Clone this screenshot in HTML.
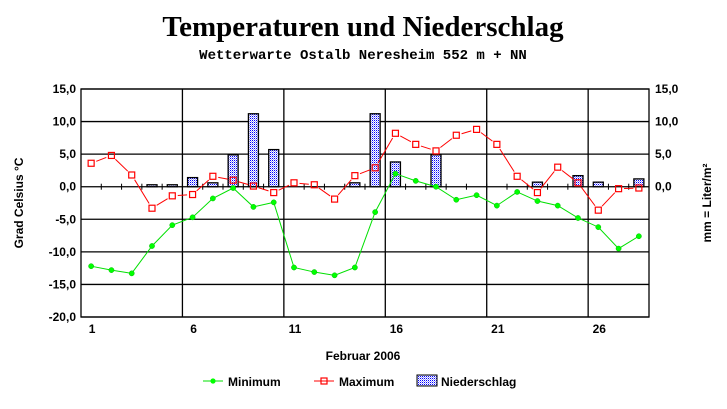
<!DOCTYPE html><html><head><meta charset="utf-8"><style>
body{margin:0;background:#fff;width:727px;height:404px;overflow:hidden}
svg text{font-family:"Liberation Sans",Arial,sans-serif;font-weight:bold;font-size:12px}
</style></head><body>
<svg id="s" width="727" height="404" xmlns="http://www.w3.org/2000/svg">
<defs><pattern id="p" width="2" height="2" patternUnits="userSpaceOnUse"><rect width="2" height="2" fill="#fff"/><rect width="1" height="1" fill="#0000ff"/><rect x="1" y="1" width="1" height="1" fill="#a0a0ff"/></pattern></defs>
<text x="363" y="36" text-anchor="middle" style="font-family:'Liberation Serif',serif;font-size:29px;font-weight:bold">Temperaturen und Niederschlag</text>
<text x="363" y="59" text-anchor="middle" style="font-family:'Liberation Mono',monospace;font-size:14px;font-weight:bold">Wetterwarte Ostalb Neresheim 552 m + NN</text>
<g id="g"></g>
<text x="363" y="360" text-anchor="middle">Februar 2006</text>
<text transform="translate(23,203) rotate(-90)" text-anchor="middle">Grad Celsius °C</text>
<text transform="translate(711,203) rotate(-90)" text-anchor="middle">mm = Liter/m²</text>
</svg>
<script>
var g=document.getElementById('g'),h='';
var L=81,R=649,T=89,B=317,W=20.286;
function y(v){return T+(15-v)*(B-T)/35}
function cx(d){return L+(d-0.5)*W}
for(var v=15;v>=-20;v-=5){var yy=y(v);h+='<line x1="'+L+'" x2="'+R+'" y1="'+yy+'" y2="'+yy+'" stroke="#000" stroke-width="1.3"/>';
h+='<text x="76" y="'+(yy+4)+'" text-anchor="end">'+v.toFixed(1).replace('.',',')+'</text>';
if(v>=0)h+='<text x="655" y="'+(yy+4)+'">'+v.toFixed(1).replace('.',',')+'</text>';}
for(var i=5;i<28;i+=5){var xx=L+i*W;h+='<line x1="'+xx+'" x2="'+xx+'" y1="'+T+'" y2="'+B+'" stroke="#000" stroke-width="1.3"/>';}
for(var i=1;i<28;i++){var xx=L+i*W;h+='<line x1="'+xx+'" x2="'+xx+'" y1="'+(y(0)-3)+'" y2="'+(y(0)+3)+'" stroke="#000"/>';}
h+='<rect x="'+L+'" y="'+T+'" width="'+(R-L)+'" height="'+(B-T)+'" fill="none" stroke="#000" stroke-width="1.3"/>';
[1,6,11,16,21,26].forEach(function(d){h+='<text x="'+(cx(d)+1)+'" y="333" text-anchor="middle">'+d+'</text>'});
var pr={4:.3,5:.3,6:1.4,7:.6,8:4.9,9:11.2,10:5.7,14:.6,15:11.2,16:3.8,18:4.9,23:.7,25:1.7,26:.7,28:1.2};
for(var d in pr){var t=y(pr[d]);h+='<rect x="'+(cx(+d)-5)+'" y="'+t+'" width="10" height="'+(y(0)-t)+'" fill="url(#p)" stroke="#000" stroke-width="1.3"/>';}
var mn=[-12.2,-12.8,-13.3,-9.1,-5.9,-4.7,-1.8,-0.2,-3.1,-2.4,-12.4,-13.1,-13.6,-12.4,-3.9,2.0,0.9,0.0,-2.0,-1.3,-2.9,-0.8,-2.2,-2.9,-4.8,-6.2,-9.5,-7.6];
var mx=[3.6,4.8,1.8,-3.3,-1.4,-1.2,1.6,1.0,0.1,-0.9,0.6,0.3,-1.9,1.7,2.9,8.2,6.5,5.5,7.9,8.8,6.5,1.6,-0.9,3.0,0.6,-3.6,-0.3,-0.2];
var p='';mn.forEach(function(v,i){p+=(i?'L':'M')+cx(i+1)+' '+y(v)});
h+='<path d="'+p+'" fill="none" stroke="#00e000" stroke-width="1"/>';
mn.forEach(function(v,i){h+='<circle cx="'+cx(i+1)+'" cy="'+y(v)+'" r="2.6" fill="#00ff00" stroke="#00c000" stroke-width=".5"/>'});
for(var i=0;i<27;i++){var x1=cx(i+1),y1=y(mx[i]),x2=cx(i+2),y2=y(mx[i+1]),dx=x2-x1,dy=y2-y1,l=Math.sqrt(dx*dx+dy*dy),k=5.5/l;
if(l>12)h+='<line x1="'+(x1+dx*k)+'" y1="'+(y1+dy*k)+'" x2="'+(x2-dx*k)+'" y2="'+(y2-dy*k)+'" stroke="#f00"/>';}
mx.forEach(function(v,i){h+='<rect x="'+(cx(i+1)-3)+'" y="'+(y(v)-3)+'" width="6" height="6" fill="none" stroke="#f00" stroke-width="1.2"/>'});
h+='<line x1="203" x2="223" y1="381" y2="381" stroke="#00e000"/><circle cx="213" cy="381" r="2.6" fill="#00ff00"/><text x="228" y="386">Minimum</text>';
h+='<line x1="314" x2="334" y1="381" y2="381" stroke="#f00"/><rect x="321" y="378" width="6" height="6" fill="none" stroke="#f00" stroke-width="1.2"/><text x="339" y="386">Maximum</text>';
h+='<rect x="417" y="375" width="20" height="11" fill="url(#p)" stroke="#000"/><text x="441" y="386">Niederschlag</text>';
g.innerHTML=h;
</script>
</body></html>
